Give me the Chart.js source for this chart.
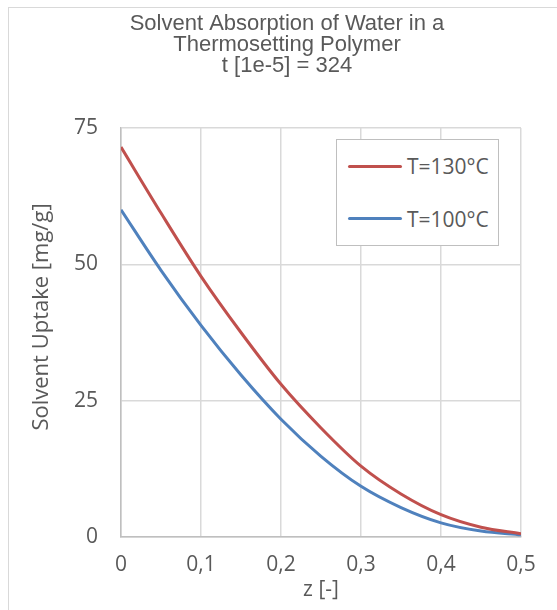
<!DOCTYPE html>
<html>
<head>
<meta charset="utf-8">
<title>Solvent Absorption</title>
<script src="https://cdn.jsdelivr.net/npm/chart.js@4.4.0/dist/chart.umd.min.js"></script>
<style>
  html, body { margin: 0; padding: 0; background: #fff; overflow: hidden; }
  #frame { position: absolute; left: 8px; top: 7px; width: 620px; height: 660px; border: 1px solid #d9d9d9; }
  #chart { position: absolute; left: 0; top: 0; }
  #legend { position: absolute; left: 336px; top: 139px; width: 161px; height: 105px; border: 1px solid #bfbfbf; background: #fff;
            font-family: 'Open Sans', sans-serif; font-size: 21px; color: #595959; }
  .item { position: absolute; left: 11px; height: 28px; display: flex; align-items: center; white-space: nowrap; }
  .swatch { width: 54px; height: 3px; border-radius: 2px; margin-right: 5px; }
</style>
</head>
<body>
<div id="frame"></div>
<canvas id="chart" width="557" height="610"></canvas>
<div id="legend"></div>
<script>
// depth into the sample [-]
var zValues = [0, 0.05, 0.1, 0.15, 0.2, 0.25, 0.3, 0.35, 0.4, 0.45, 0.5];
// solvent uptake [mg/g] at each depth
var uptake130 = [71.5, 59.4, 47.8, 37.5, 28.0, 20.0, 13.0, 7.9, 4.1, 1.8, 0.6];
var uptake100 = [60.0, 48.9, 38.8, 29.7, 21.6, 14.8, 9.3, 5.4, 2.6, 1.1, 0.4];
var seriesLabels = ['T=130°C', 'T=100°C'];
var seriesColors = ['#C0504D', '#4F81BD'];
var titleLines = ['Solvent Absorption of Water in a', 'Thermosetting Polymer', 't [1e-5] = 324'];
var yTitle = 'Solvent Uptake [mg/g]';
var xTitle = 'z [-]';
var yTicks = [0, 25, 50, 75];

function toPoints(values) {
    return zValues.map(function (z, i) { return { x: z, y: values[i] }; });
}

function commaDecimal(v) {
    return v === 0 ? '0' : v.toFixed(1).replace('.', ',');
}

var textColor = '#595959';
var tickFont = { family: 'Open Sans', size: 21 };

// y axis title, drawn a little above the plot centre
var yTitlePlugin = {
    id: 'yTitle',
    afterDraw: function (c) {
        var ctx = c.ctx;
        ctx.save();
        ctx.translate(42, 317);
        ctx.rotate(-Math.PI / 2);
        ctx.font = '22px "Open Sans"';
        ctx.fillStyle = textColor;
        ctx.textAlign = 'center';
        ctx.textBaseline = 'middle';
        ctx.fillText(yTitle, 0, 0);
        ctx.restore();
    }
};

var chart = new Chart(document.getElementById('chart'), {
    type: 'line',
    data: {
        datasets: [{
            label: seriesLabels[0],
            data: toPoints(uptake130),
            borderColor: seriesColors[0],
            borderWidth: 3,
            pointRadius: 0,
            cubicInterpolationMode: 'monotone'
        }, {
            label: seriesLabels[1],
            data: toPoints(uptake100),
            borderColor: seriesColors[1],
            borderWidth: 3,
            pointRadius: 0,
            cubicInterpolationMode: 'monotone'
        }]
    },
    plugins: [yTitlePlugin],
    options: {
        responsive: false,
        animation: false,
        layout: { padding: { left: 17, right: 0, top: 0, bottom: 0 } },
        plugins: {
            legend: { display: false },
            tooltip: { enabled: false },
            title: {
                display: true,
                text: titleLines,
                color: textColor,
                font: { family: 'Liberation Sans', size: 22, weight: 'normal', lineHeight: 21 / 22 },
                padding: { top: 13.5, bottom: 51.5 }
            }
        },
        scales: {
            x: {
                type: 'linear',
                min: 0,
                max: 0.5,
                afterFit: function (scale) { scale.height = 73; },
                ticks: {
                    stepSize: 0.1,
                    padding: 15,
                    color: textColor,
                    font: tickFont,
                    callback: function (v) { return commaDecimal(v); }
                },
                grid: { color: '#d9d9d9', lineWidth: 1.5, drawTicks: false },
                border: { color: '#bfbfbf', width: 1.5 },
                title: {
                    display: true,
                    text: xTitle,
                    color: textColor,
                    font: tickFont,
                    padding: { top: 0, bottom: 7 }
                }
            },
            y: {
                min: 0,
                max: 75,
                afterFit: function (scale) { scale.width = 104; },
                afterBuildTicks: function (scale) {
                    scale.ticks = yTicks.map(function (v) { return { value: v }; });
                },
                ticks: { padding: 23, color: textColor, font: tickFont },
                grid: { color: '#d9d9d9', lineWidth: 1.5, drawTicks: false },
                border: { color: '#bfbfbf', width: 1.5 }
            },
            // empty margin on the right side of the plot
            yRight: {
                position: 'right',
                min: 0,
                max: 75,
                afterFit: function (scale) { scale.width = 36; },
                ticks: { display: false },
                grid: { display: false, drawTicks: false },
                border: { display: false }
            }
        }
    }
});

// legend box inside the plot
var legendBox = document.getElementById('legend');
chart.data.datasets.forEach(function (ds, i) {
    var item = document.createElement('div');
    item.className = 'item';
    item.style.top = (12 + i * 52.6) + 'px';
    var swatch = document.createElement('span');
    swatch.className = 'swatch';
    swatch.style.background = ds.borderColor;
    item.appendChild(swatch);
    item.appendChild(document.createTextNode(ds.label));
    legendBox.appendChild(item);
});
</script>
</body>
</html>
